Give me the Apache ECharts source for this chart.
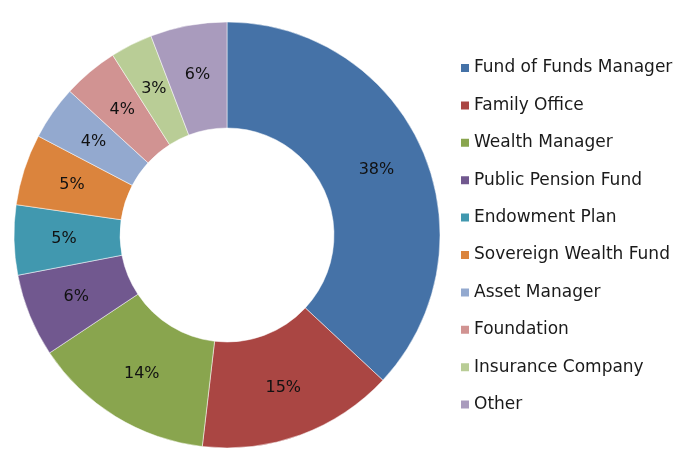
<!DOCTYPE html>
<html>
<head>
<meta charset="utf-8">
<script src="https://cdn.jsdelivr.net/npm/echarts@6/dist/echarts.min.js"></script>
<style>
  html, body { margin: 0; padding: 0; background: #fff; }
  #chart { width: 683px; height: 450px; }
</style>
</head>
<body>
<div id="chart"></div>
<script>
// investor types, slice sizes read from the ring, and the printed percent labels
var categories = ['Fund of Funds Manager', 'Family Office', 'Wealth Manager', 'Public Pension Fund',
  'Endowment Plan', 'Sovereign Wealth Fund', 'Asset Manager', 'Foundation', 'Insurance Company', 'Other']
var shares = [36.9, 14.9, 13.8, 6.3, 5.3, 5.4, 4.1, 4.2, 3.2, 5.8]
var pctLabels = ['38%', '15%', '14%', '6%', '5%', '5%', '4%', '4%', '3%', '6%']
var colors = ['#4572A7', '#AA4643', '#89A54E', '#71588F', '#4198AF',
  '#DB843D', '#93A9CF', '#D19392', '#B9CD96', '#A99BBD']

var chart = echarts.init(document.getElementById('chart'))
chart.setOption({
  animation: false,
  color: colors,
  textStyle: { fontFamily: 'DejaVu Sans' },
  legend: {
    orient: 'vertical',
    left: 454,
    top: 54.5,
    itemWidth: 10,
    itemHeight: 10,
    itemGap: 20.4,
    icon: 'rect',
    textStyle: { fontSize: 17, color: '#1a1a1a', lineHeight: 17, padding: [0, 0, 0, -1] },
    data: categories
  },
  series: [{
    type: 'pie',
    center: [227, 235],
    radius: [107, 213],
    startAngle: 90,
    clockwise: true,
    itemStyle: { borderColor: '#fff', borderWidth: 0.5 },
    label: {
      position: 'inside',
      formatter: function (p) { return pctLabels[p.dataIndex] },
      fontSize: 16,
      color: '#111'
    },
    labelLine: { show: false },
    emphasis: { disabled: true },
    data: categories.map(function (name, i) {
      return { name: name, value: shares[i] }
    })
  }]
})
</script>
</body>
</html>
